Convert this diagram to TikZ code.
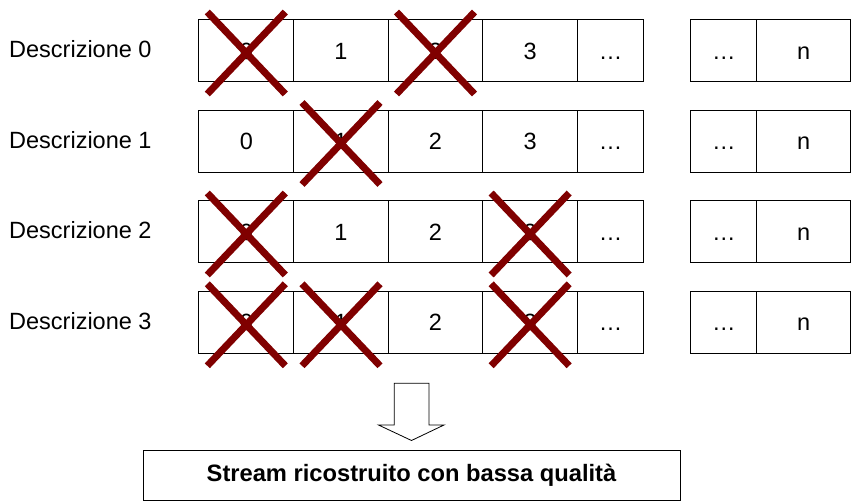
\documentclass[tikz,border=0pt]{standalone}
\usepackage{fontspec}
\setmainfont{Liberation Sans}
\definecolor{crossred}{HTML}{800000}
\begin{document}
\begin{tikzpicture}[x=1pt,y=-1pt,
  cell/.style={draw=black,line width=1pt,minimum height=62pt,inner sep=0pt,
    font=\fontsize{23.5}{27}\selectfont,anchor=north west},
  rowlabel/.style={anchor=west,inner sep=0pt,font=\fontsize{23.5}{27}\selectfont},
  xmark/.style={draw=crossred,line width=7pt},
  blockarrow/.style={draw=black,line width=0.8pt,fill=white},
  outbox/.style={draw=black,line width=1pt,minimum width=537pt,minimum height=50pt,
    inner sep=0pt,font=\bfseries\fontsize{23.7}{27}\selectfont}]
\useasboundingbox (0,0) rectangle (851,502);
\foreach \r/\ya in {0/19.5,1/110,2/200.5,3/291.3}{
  \node[rowlabel] (lbl\r) at (9,\ya+30) {Descrizione \r};
  \foreach \c/\xa/\w/\t in {0/198.3/95/0,1/293.3/94.4/1,2/387.7/94.6/2,3/482.3/94.7/3,
      4/577/66.3/…,5/690.3/66/…,6/756.3/93.7/n}{
    \node[cell,minimum width=\w pt] (c\r-\c) at (\xa,\ya) {\vphantom{0}\t};
  }
}
\foreach \r/\c in {0/0,0/2,1/1,2/0,2/3,3/0,3/1,3/3}{
  \draw[xmark] ([shift={(-39,-39)}]c\r-\c.center) -- ([shift={(39,43)}]c\r-\c.center);
  \draw[xmark] ([shift={(39,-39)}]c\r-\c.center) -- ([shift={(-39,43)}]c\r-\c.center);
}
\draw[blockarrow] (394.3,383.3) -- (429,383.3) -- (429,425) -- (444,425)
  -- (411.5,440.5) -- (378.5,425) -- (394.3,425) -- cycle;
\node[outbox] (out) at (411.5,475) {Stream ricostruito con bassa qualità};
\end{tikzpicture}
\end{document}
